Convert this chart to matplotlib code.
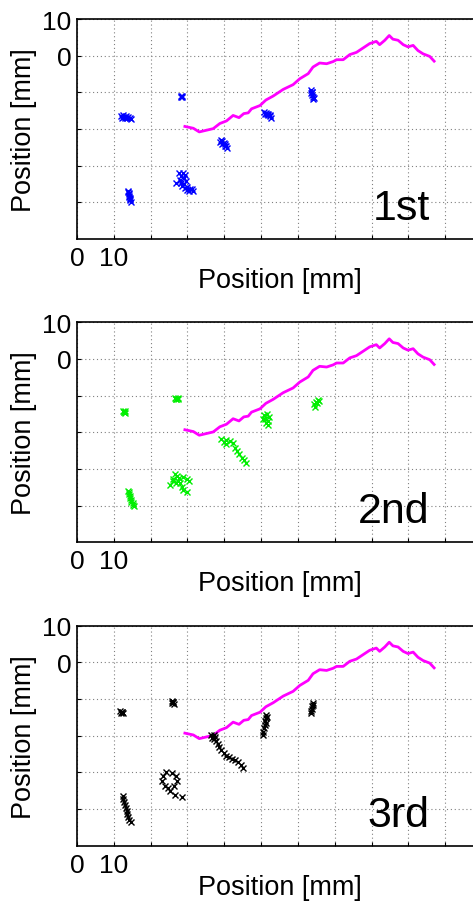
import matplotlib
matplotlib.use('Agg')  # Headless backend
import matplotlib.pyplot as plt

plt.rcParams['font.family'] = ['Liberation Sans', 'DejaVu Sans']

# Magenta reference path (same in every panel)
path_x = [29.3, 31.6, 33.2, 37.0, 38.8, 40.6, 42.4, 44.0, 45.3, 46.5, 47.4, 49.7, 51.3, 53.3,
          56.0, 58.7, 60.5, 62.8, 64.1, 65.9, 67.8, 69.6, 70.5, 72.3, 74.1, 75.9, 77.7, 79.5,
          81.3, 82.2, 83.6, 84.8, 85.8, 87.2, 88.6, 89.9, 91.3, 92.6, 94.0, 95.8, 97.0]
path_y = [-19.3, -19.8, -20.8, -19.9, -18.5, -17.8, -16.3, -16.9, -15.8, -15.6, -14.5, -13.6, -12.1, -11.0,
          -9.2, -7.9, -6.3, -4.9, -3.1, -2.0, -2.2, -1.6, -1.1, -1.1, 0.3, 0.9, 2.1, 3.3,
          3.9, 3.0, 4.2, 5.5, 4.5, 4.2, 3.0, 2.4, 2.8, 1.4, 0.5, -0.2, -1.5]

# 1st measurement (blue)
blue_x = [12.0, 12.5, 12.8, 13.2, 13.5, 13.9, 14.3, 14.8, 12.3, 13.0,
          28.2, 28.6, 28.4, 28.3,
          13.8, 13.9, 14.0, 14.1, 14.2, 14.3, 14.4, 14.6, 14.1, 14.4,
          27.8, 28.8, 29.4, 28.2, 29.0, 28.0, 27.0, 28.3, 29.0, 29.5, 28.5, 29.3, 30.0, 30.6,
          31.2, 30.3, 31.6, 29.8,
          39.0, 39.5, 38.8, 39.8, 40.2, 39.4, 40.5, 40.7, 40.1,
          50.8, 51.2, 51.6, 51.0, 52.0, 52.3, 52.7, 51.8, 52.5,
          63.5, 63.7, 63.6, 63.9, 64.0, 64.3, 64.1, 63.8]
blue_y = [-16.5, -16.3, -16.8, -16.5, -17.0, -16.7, -17.1, -17.3, -16.9, -17.1,
          -10.9, -11.2, -11.0, -11.3,
          -36.8, -37.3, -37.8, -38.2, -38.6, -39.0, -39.4, -39.9, -37.5, -38.8,
          -31.9, -32.0, -32.5, -32.8, -33.3, -34.0, -34.6, -34.8, -35.0, -34.3, -35.6, -36.0, -35.7, -36.3,
          -36.4, -36.8, -37.0, -36.5,
          -23.0, -23.3, -23.6, -23.8, -24.1, -24.0, -24.6, -25.2, -24.5,
          -15.4, -15.5, -15.8, -15.9, -16.2, -16.5, -16.9, -16.0, -16.3,
          -9.3, -9.8, -10.3, -10.7, -11.2, -11.6, -11.9, -10.0]

# 2nd measurement (green)
green_x = [12.5, 13.0, 12.7, 13.1, 12.9,
           26.7, 27.3, 27.0, 27.5, 26.9,
           13.8, 14.2, 14.0, 14.4, 14.3, 14.7, 14.8, 15.1, 15.3, 15.6,
           26.6, 27.2, 26.0, 27.8, 28.8, 29.9, 30.5, 26.9, 28.0, 25.2, 28.4, 28.8, 29.9, 26.1, 27.5,
           39.0, 39.9, 40.6, 41.5, 42.3, 42.9, 43.5, 44.0, 44.7, 45.3, 46.0, 40.4,
           50.7, 51.5, 52.2, 51.0, 51.9, 51.3, 52.0, 50.6,
           65.5, 64.9, 64.3, 65.2, 64.6, 65.8]
green_y = [-14.1, -14.2, -14.6, -14.7, -14.4,
           -10.6, -10.6, -11.0, -10.9, -10.8,
           -36.0, -36.3, -36.9, -37.3, -37.9, -38.4, -38.9, -39.4, -39.9, -40.2,
           -31.4, -31.9, -32.8, -32.6, -32.1, -32.8, -33.3, -33.7, -33.9, -34.4, -34.8, -35.7, -36.4, -33.3, -33.3,
           -21.7, -22.7, -23.3, -22.4, -23.0, -24.2, -25.1, -26.0, -26.9, -27.6, -28.3, -22.2,
           -15.4, -15.1, -15.8, -16.5, -17.0, -17.6, -18.1, -16.3,
           -11.2, -11.8, -12.4, -12.1, -13.0, -11.6]

# 3rd measurement (black)
black_x = [11.8, 12.3, 12.0, 12.4, 12.1,
           25.7, 26.2, 25.9, 26.3, 26.0,
           12.4, 12.6, 12.8, 13.0, 13.2, 13.5, 13.7, 13.9, 14.2, 14.6,
           23.4, 24.3, 25.7, 26.9, 27.2, 26.3, 24.8, 23.9, 23.0, 25.2, 26.6, 28.4,
           36.5, 37.2, 36.8, 37.5, 37.1, 37.8, 38.3, 38.7, 39.2, 39.8, 40.6, 41.4, 42.2, 43.0,
           43.8, 44.6, 45.0,
           51.3, 51.2, 51.1, 51.0, 50.8, 50.6, 50.4, 51.5, 51.4,
           64.0, 63.9, 63.8, 63.6, 63.5, 64.1]
black_y = [-13.3, -13.4, -13.8, -13.9, -13.6,
           -10.6, -10.7, -11.1, -11.3, -10.9,
           -36.4, -37.2, -38.0, -38.8, -39.6, -40.5, -41.3, -42.1, -42.9, -43.6,
           -31.1, -30.0, -30.2, -31.1, -32.4, -33.6, -34.2, -33.6, -32.4, -35.2, -36.3, -36.7,
           -19.9, -19.8, -20.5, -20.4, -20.9, -21.4, -22.3, -23.2, -24.0, -24.7, -25.4, -25.9, -26.3, -26.7,
           -27.3, -28.0, -28.7,
           -14.3, -15.2, -16.1, -17.0, -17.9, -18.9, -19.8, -14.8, -16.6,
           -11.1, -11.9, -12.6, -13.3, -13.9, -11.6]

panels = [
    ('1st', blue_x, blue_y, '#0000ff'),
    ('2nd', green_x, green_y, '#00ee00'),
    ('3rd', black_x, black_y, '#000000'),
]
xticks = list(range(0, 111, 10))
yticks = [10, 0, -10, -20, -30, -40]
xtick_labels = ['0', '10'] + [''] * (len(xticks) - 2)
ytick_labels = ['10', '0'] + [''] * (len(yticks) - 2)

W, H = 473, 903
fig = plt.figure(figsize=(W / 100, H / 100), dpi=100)
bottoms = [240, 543.3, 846.7]

for (label, xs, ys, color), b in zip(panels, bottoms):
    ax = fig.add_axes([77 / W, 1 - b / H, 405 / W, 220 / H])
    ax.plot(path_x, path_y, color='#ff00ff', linewidth=2)
    ax.plot(xs, ys, 'x', color=color, markersize=4, markeredgewidth=1.0)
    ax.set_xlim(0, 110)
    ax.set_ylim(-50, 10)
    ax.set_xticks(xticks)
    ax.set_xticklabels(xtick_labels)
    ax.set_yticks(yticks)
    ax.set_yticklabels(ytick_labels)
    ax.grid(True, linestyle=(0, (1, 2.5)), color='0.5', linewidth=0.8)
    ax.tick_params(direction='in', length=3, labelsize=19, width=0.8)
    ax.tick_params(axis='x', pad=5)
    ax.tick_params(axis='y', pad=4)
    for s in ax.spines.values():
        s.set_linewidth(1.2)
    ax.set_xlabel('Position [mm]', fontsize=19.5, labelpad=-2)
    ax.set_ylabel('Position [mm]', fontsize=19.5, labelpad=4)
    ax.text(95.8, -44.5, label, fontsize=31, ha='right', va='baseline')

plt.savefig('out.png', dpi=100)
plt.close()
